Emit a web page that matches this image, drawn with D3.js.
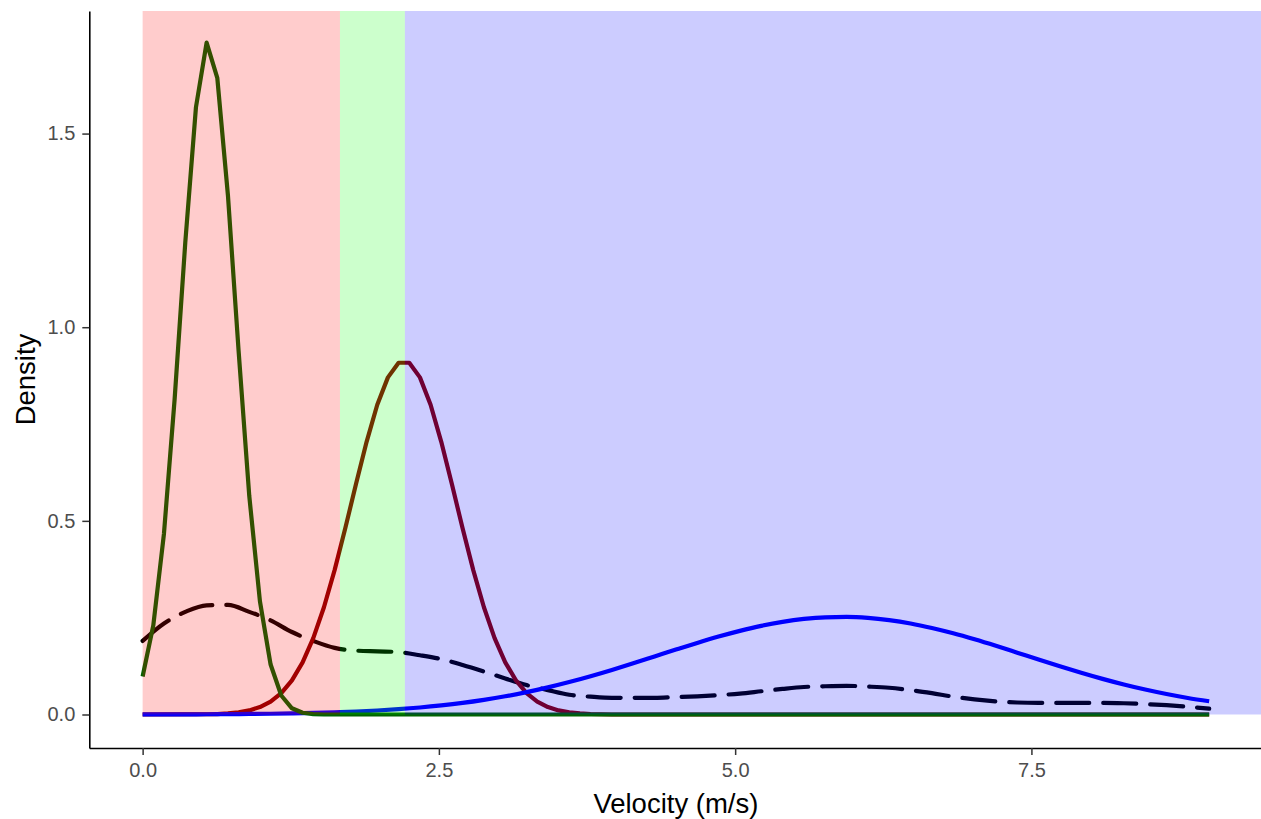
<!DOCTYPE html>
<html>
<head>
<meta charset="utf-8">
<script src="https://cdn.jsdelivr.net/npm/d3@7"></script>
<style>
  body { margin: 0; background: #fff; }
  svg { display: block; font-family: "Liberation Sans", Arial, sans-serif; }
</style>
</head>
<body>
<div id="chart"></div>
<script>
"use strict";
// narrow component (dark green)
const slowV = [0, 0.09, 0.18, 0.27, 0.36, 0.45, 0.54, 0.63, 0.72, 0.81, 0.90, 0.99, 1.08, 1.17, 1.26, 1.35, 1.44, 1.53, 9];
const slowD = [0.098, 0.230, 0.467, 0.814, 1.219, 1.568, 1.735, 1.644, 1.340, 0.938, 0.564, 0.292, 0.129, 0.049, 0.016, 0.0045, 0.001, 0, 0];
// middle component (dark red)
const midV = [0, 0.63, 0.72, 0.81, 0.90, 0.99, 1.08, 1.17, 1.26, 1.35, 1.44, 1.53, 1.62, 1.71, 1.80, 1.89, 1.98, 2.07, 2.16,
  2.25, 2.34, 2.43, 2.52, 2.61, 2.70, 2.79, 2.88, 2.97, 3.06, 3.15, 3.24, 3.33, 3.42, 3.51, 3.60, 3.69, 3.78, 3.87, 3.96, 9];
const midD = [0, 0.001, 0.0028, 0.0056, 0.0106, 0.0192, 0.0332, 0.0553, 0.0881, 0.1347, 0.1973, 0.277, 0.3728, 0.4808, 0.5943, 0.7041, 0.7997, 0.8705, 0.9082,
  0.9082, 0.8705, 0.7997, 0.7041, 0.5943, 0.4808, 0.3728, 0.277, 0.1973, 0.1347, 0.0881, 0.0553, 0.0332, 0.0192, 0.0106, 0.0056, 0.0028, 0.0013, 0.0006, 0, 0];
// wide component (blue) and mixture (dashed) on a coarser grid
const wideV = [0, 0.18, 0.36, 0.54, 0.72, 0.90, 1.08, 1.26, 1.44, 1.62, 1.80, 1.98, 2.16, 2.34, 2.52, 2.70, 2.88, 3.06, 3.24, 3.42,
  3.60, 3.78, 3.96, 4.14, 4.32, 4.50, 4.68, 4.86, 5.04, 5.22, 5.40, 5.58, 5.76, 5.94, 6.12, 6.30, 6.48, 6.66, 6.84, 7.02,
  7.20, 7.38, 7.56, 7.74, 7.92, 8.10, 8.28, 8.46, 8.64, 8.82, 9.00];
const wideD = [0.0002, 0.0003, 0.0004, 0.0006, 0.0010, 0.0014, 0.0020, 0.0029, 0.0040, 0.0056, 0.0076, 0.0103, 0.0137, 0.0180, 0.0234, 0.0299, 0.0378, 0.0470, 0.0578, 0.0701,
  0.0838, 0.0989, 0.1151, 0.1322, 0.1499, 0.1676, 0.1849, 0.2012, 0.2160, 0.2289, 0.2392, 0.2467, 0.2510, 0.2520, 0.2495, 0.2437, 0.2350, 0.2234, 0.2097, 0.1941,
  0.1773, 0.1597, 0.1420, 0.1246, 0.1078, 0.0920, 0.0775, 0.0644, 0.0528, 0.0427, 0.0341];
const mixD = [0.190, 0.235, 0.265, 0.282, 0.283, 0.265, 0.243, 0.213, 0.190, 0.172, 0.165, 0.163, 0.161, 0.153, 0.143, 0.128, 0.111, 0.093, 0.076, 0.063,
  0.051, 0.046, 0.043, 0.043, 0.043, 0.045, 0.047, 0.050, 0.054, 0.060, 0.066, 0.071, 0.073, 0.074, 0.072, 0.069, 0.063, 0.055, 0.046, 0.039,
  0.034, 0.031, 0.030, 0.030, 0.030, 0.030, 0.029, 0.027, 0.024, 0.020, 0.015];

// shaded velocity bands
const bandFrom = [0, 1.665, 2.213];
const bandTo = [1.665, 2.213, Infinity];
const bandColor = ["#FF0000", "#00FF00", "#0000FF"];

const xTicks = [0, 2.5, 5, 7.5];
const yTicks = [0, 0.5, 1, 1.5];

const W = 1261, H = 819;
const xDom = [-0.45, 9.45], yDom = [-0.0865, 1.8165];

const x = d3.scaleLinear().domain(xDom).range([89.3, 1262.5]);
const y = d3.scaleLinear().domain(yDom).range([748, 11]);

const svg = d3.select("#chart").append("svg")
  .attr("width", W)
  .attr("height", H);

const pairs = (vs, ds) => vs.map((v, i) => [v, ds[i]]);

const lineLin = d3.line().x(d => x(d[0])).y(d => y(d[1]));
const lineSmooth = d3.line().x(d => x(d[0])).y(d => y(d[1])).curve(d3.curveMonotoneX);

const series = [
  { pts: pairs(wideV, mixD), color: "#000000", gen: lineSmooth, dash: "33,14" },
  { pts: pairs(midV, midD), color: "#8B0000", gen: lineLin },
  { pts: pairs(wideV, wideD), color: "#0000FF", gen: lineSmooth },
  { pts: pairs(slowV, slowD), color: "#006400", gen: lineLin }
];

svg.append("g").selectAll("path")
  .data(series)
  .join("path")
  .attr("d", d => d.gen(d.pts))
  .attr("fill", "none")
  .attr("stroke", d => d.color)
  .attr("stroke-width", 4.2)
  .attr("stroke-linejoin", "round")
  .attr("stroke-linecap", d => d.dash ? "round" : "butt")
  .attr("stroke-dasharray", d => d.dash || null);

// translucent bands sit on top of the curves
svg.append("g").selectAll("rect")
  .data(bandFrom)
  .join("rect")
  .attr("x", (d, i) => x(d))
  .attr("width", (d, i) => x(Math.min(bandTo[i], xDom[1])) - x(d))
  .attr("y", y(yDom[1]))
  .attr("height", y(0) - y(yDom[1]))
  .attr("fill", (d, i) => bandColor[i])
  .attr("fill-opacity", 0.2);

// axes
const xAxis = svg.append("g")
  .attr("transform", `translate(0,${y(yDom[0])})`)
  .call(d3.axisBottom(x).tickValues(xTicks).tickFormat(d3.format(".1f"))
    .tickSize(7).tickSizeOuter(0).tickPadding(8));
const yAxis = svg.append("g")
  .attr("transform", `translate(${x(xDom[0])},0)`)
  .call(d3.axisLeft(y).tickValues(yTicks).tickFormat(d3.format(".1f"))
    .tickSize(7).tickSizeOuter(0).tickPadding(7));

[xAxis, yAxis].forEach(g => {
  g.select(".domain").attr("stroke", "#000").attr("stroke-width", 1.6);
  g.selectAll(".tick line").attr("stroke", "#333").attr("stroke-width", 1.5);
  g.selectAll(".tick text")
    .attr("fill", "#4D4D4D")
    .style("font-size", "20px")
    .style("font-family", "Liberation Sans, Arial, sans-serif");
});

svg.append("text")
  .attr("x", (x(xDom[0]) + x(xDom[1])) / 2)
  .attr("y", 813)
  .attr("text-anchor", "middle")
  .style("font-size", "27.5px")
  .text("Velocity (m/s)");

svg.append("text")
  .attr("transform", `translate(35,${(y(yDom[0]) + y(yDom[1])) / 2}) rotate(-90)`)
  .attr("text-anchor", "middle")
  .style("font-size", "27.5px")
  .text("Density");
</script>
</body>
</html>
